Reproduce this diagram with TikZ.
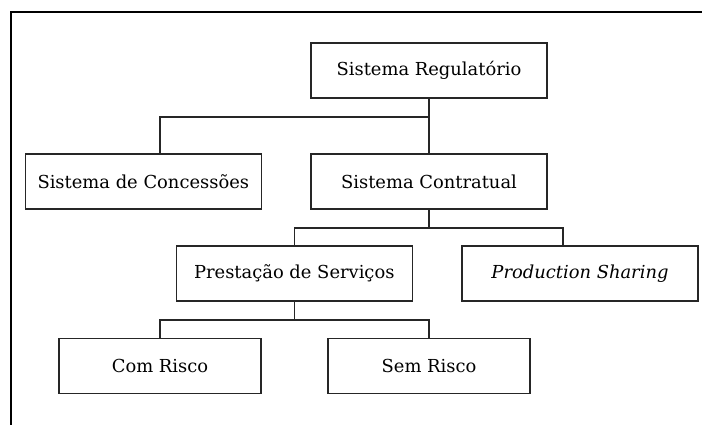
\documentclass[tikz,border=0pt]{standalone}
\usepackage{fontspec}
\setmainfont{DejaVu Serif}
\begin{document}
\begin{tikzpicture}[x=1pt,y=-1pt,
  box/.style={draw=black!85,line width=1.2pt,fill=white,minimum width=236pt,minimum height=55pt,inner sep=0pt,font=\fontsize{17.9}{21}\selectfont},
  smallbox/.style={box,minimum width=202pt},
  conn/.style={draw=black!85,line width=1.2pt}]
\useasboundingbox (0,0) rectangle (702,425);
\draw[line width=2.2pt,line cap=rect] (11,425) -- (11,12) -- (702,12);
\node[box] (R) at (429,70.5) {Sistema Regulatório};
\node[box] (Conc) at (143.3,181.5) {Sistema de Concessões};
\node[box] (Contr) at (429,181.5) {Sistema Contratual};
\node[box] (Prest) at (294.3,273.5) {Prestação de Serviços};
\node[box] (Prod) at (580,273.5) {\itshape Production Sharing};
\node[smallbox] (Com) at (160,366) {Com Risco};
\node[smallbox] (Sem) at (429,366) {Sem Risco};
\coordinate (j1) at (429,117);
\coordinate (j2) at (429,228);
\coordinate (j3) at (294.3,320);
\draw[conn] (R.south) -- (Contr.north);
\draw[conn] (j1) -| ([xshift=16.7pt]Conc.north);
\draw[conn] (Contr.south) -- (j2);
\draw[conn] ([xshift=-17pt]Prod.north) |- (j2) -| (Prest.north);
\draw[conn] (Prest.south) -- (j3);
\draw[conn] (Com.north) |- (j3) -| (Sem.north);
\end{tikzpicture}
\end{document}
